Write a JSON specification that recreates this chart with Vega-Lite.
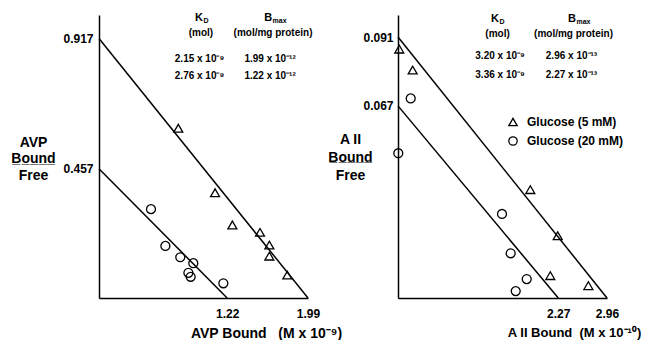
{
  "$schema": "https://vega.github.io/schema/vega-lite/v6.json",
  "background": "white",
  "padding": {"left": 10, "top": 12, "right": 0, "bottom": 0},
  "bounds": "flush",
  "spacing": 90,
  "datasets": {
    "pts_avp": [
      {"x": 0.755, "y": 0.600, "g": "Glucose (5 mM)"},
      {"x": 1.105, "y": 0.372, "g": "Glucose (5 mM)"},
      {"x": 1.270, "y": 0.258, "g": "Glucose (5 mM)"},
      {"x": 1.533, "y": 0.232, "g": "Glucose (5 mM)"},
      {"x": 1.622, "y": 0.187, "g": "Glucose (5 mM)"},
      {"x": 1.622, "y": 0.148, "g": "Glucose (5 mM)"},
      {"x": 1.793, "y": 0.081, "g": "Glucose (5 mM)"},
      {"x": 0.495, "y": 0.314, "g": "Glucose (20 mM)"},
      {"x": 0.632, "y": 0.184, "g": "Glucose (20 mM)"},
      {"x": 0.774, "y": 0.144, "g": "Glucose (20 mM)"},
      {"x": 0.898, "y": 0.123, "g": "Glucose (20 mM)"},
      {"x": 0.851, "y": 0.089, "g": "Glucose (20 mM)"},
      {"x": 0.873, "y": 0.075, "g": "Glucose (20 mM)"},
      {"x": 1.184, "y": 0.052, "g": "Glucose (20 mM)"}
    ],
    "lines_avp": [
      {"x": 0, "y": 0.917, "x2": 1.99, "y2": 0},
      {"x": 0, "y": 0.457, "x2": 1.22, "y2": 0}
    ],
    "ann_avp": [
      {"x": 0.971, "y": 0.936, "t": "(mol)"},
      {"x": 1.657, "y": 0.936, "t": "(mol/mg protein)"},
      {"x": 0.957, "y": 0.845, "t": "2.15 x 10⁻⁹"},
      {"x": 1.629, "y": 0.845, "t": "1.99 x 10⁻¹²"},
      {"x": 0.957, "y": 0.784, "t": "2.76 x 10⁻⁹"},
      {"x": 1.629, "y": 0.784, "t": "1.22 x 10⁻¹²"}
    ],
    "hdr_avp": [
      {"x": 0.99, "y": 0.989, "t": "K", "s": "D"},
      {"x": 1.648, "y": 0.989, "t": "B", "s": "max"}
    ],
    "pts_aii": [
      {"x": 0.018, "y": 0.0868, "g": "Glucose (5 mM)"},
      {"x": 0.208, "y": 0.0795, "g": "Glucose (5 mM)"},
      {"x": 1.874, "y": 0.0378, "g": "Glucose (5 mM)"},
      {"x": 2.262, "y": 0.0217, "g": "Glucose (5 mM)"},
      {"x": 2.157, "y": 0.0078, "g": "Glucose (5 mM)"},
      {"x": 2.696, "y": 0.0043, "g": "Glucose (5 mM)"},
      {"x": 0.180, "y": 0.0696, "g": "Glucose (20 mM)"},
      {"x": 0.004, "y": 0.0505, "g": "Glucose (20 mM)"},
      {"x": 1.473, "y": 0.0293, "g": "Glucose (20 mM)"},
      {"x": 1.596, "y": 0.0156, "g": "Glucose (20 mM)"},
      {"x": 1.823, "y": 0.0066, "g": "Glucose (20 mM)"},
      {"x": 1.667, "y": 0.0024, "g": "Glucose (20 mM)"}
    ],
    "lines_aii": [
      {"x": 0, "y": 0.091, "x2": 2.96, "y2": 0},
      {"x": 0, "y": 0.067, "x2": 2.27, "y2": 0}
    ],
    "ann_aii": [
      {"x": 1.41, "y": 0.0921, "t": "(mol)"},
      {"x": 2.486, "y": 0.0921, "t": "(mol/mg protein)"},
      {"x": 1.445, "y": 0.0844, "t": "3.20 x 10⁻⁹"},
      {"x": 2.457, "y": 0.0844, "t": "2.96 x 10⁻¹³"},
      {"x": 1.445, "y": 0.0778, "t": "3.36 x 10⁻⁹"},
      {"x": 2.457, "y": 0.0778, "t": "2.27 x 10⁻¹³"}
    ],
    "hdr_aii": [
      {"x": 1.431, "y": 0.0973, "t": "K", "s": "D"},
      {"x": 2.52, "y": 0.0973, "t": "B", "s": "max"}
    ]
  },
  "hconcat": [
    {
      "width": 209,
      "height": 283,
      "layer": [
        {
          "data": {"name": "lines_avp"},
          "mark": {"type": "rule", "color": "black", "strokeWidth": 1.5},
          "encoding": {
            "x": {"field": "x", "type": "quantitative", "scale": {"domain": [0, 1.99], "nice": false, "zero": true},
              "axis": {"title": "AVP Bound\u00a0\u00a0 (M x 10⁻⁹)", "values": [1.22, 1.99], "format": ".2f", "labelPadding": 10,
                "titleX": 167, "titleY": 35, "titleAlign": "center", "titleBaseline": "middle"}},
            "y": {"field": "y", "type": "quantitative", "scale": {"domain": [0, 1], "nice": false, "zero": true},
              "axis": {"title": ["AVP", "B\u0332o\u0332u\u0332n\u0332d\u0332", "Free"], "values": [0.457, 0.917], "format": ".3f", "labelPadding": 6,
                "titleAngle": 0, "titleX": -66, "titleY": 127, "titleAlign": "center", "titleBaseline": "middle", "titleLineHeight": 16.5}},
            "x2": {"field": "x2"},
            "y2": {"field": "y2"}
          }
        },
        {
          "data": {"name": "pts_avp"},
          "mark": {"type": "point", "filled": false, "color": "black", "strokeWidth": 1.3, "size": 80, "opacity": 1},
          "encoding": {
            "x": {"field": "x", "type": "quantitative"},
            "y": {"field": "y", "type": "quantitative"},
            "shape": {"field": "g", "type": "nominal", "scale": {"domain": ["Glucose (5 mM)", "Glucose (20 mM)"], "range": ["triangle-up", "circle"]}, "legend": null}
          }
        },
        {
          "data": {"name": "ann_avp"},
          "mark": {"type": "text", "fontSize": 10, "fontWeight": "bold", "align": "center", "baseline": "middle", "color": "black"},
          "encoding": {
            "x": {"field": "x", "type": "quantitative"},
            "y": {"field": "y", "type": "quantitative"},
            "text": {"field": "t"}
          }
        },
        {
          "data": {"name": "hdr_avp"},
          "mark": {"type": "text", "fontSize": 11, "fontWeight": "bold", "align": "right", "baseline": "middle", "color": "black"},
          "encoding": {
            "x": {"field": "x", "type": "quantitative"},
            "y": {"field": "y", "type": "quantitative"},
            "text": {"field": "t"}
          }
        },
        {
          "data": {"name": "hdr_avp"},
          "mark": {"type": "text", "fontSize": 7, "fontWeight": "bold", "align": "left", "baseline": "middle", "dx": 0.5, "dy": 3, "color": "black"},
          "encoding": {
            "x": {"field": "x", "type": "quantitative"},
            "y": {"field": "y", "type": "quantitative"},
            "text": {"field": "s"}
          }
        }
      ]
    },
    {
      "width": 209,
      "height": 283,
      "layer": [
        {
          "data": {"name": "lines_aii"},
          "mark": {"type": "rule", "color": "black", "strokeWidth": 1.5},
          "encoding": {
            "x": {"field": "x", "type": "quantitative", "scale": {"domain": [0, 2.96], "nice": false, "zero": true},
              "axis": {"title": "A II Bound\u00a0\u00a0(M x 10⁻¹⁰)", "values": [2.27, 2.96], "format": ".2f", "labelPadding": 10,
                "titleX": 176, "titleY": 34, "titleAlign": "center", "titleBaseline": "middle", "titleFontSize": 13}},
            "y": {"field": "y", "type": "quantitative", "scale": {"domain": [0, 0.0987], "nice": false, "zero": true},
              "axis": {"title": ["A II", "B\u0332o\u0332u\u0332n\u0332d\u0332", "Free"], "values": [0.067, 0.091], "format": ".3f", "labelPadding": 5,
                "titleAngle": 0, "titleX": -48, "titleY": 124, "titleAlign": "center", "titleBaseline": "middle", "titleLineHeight": 18}},
            "x2": {"field": "x2"},
            "y2": {"field": "y2"}
          }
        },
        {
          "data": {"name": "pts_aii"},
          "mark": {"type": "point", "filled": false, "color": "black", "strokeWidth": 1.3, "size": 80, "opacity": 1},
          "encoding": {
            "x": {"field": "x", "type": "quantitative"},
            "y": {"field": "y", "type": "quantitative"},
            "shape": {"field": "g", "type": "nominal", "scale": {"domain": ["Glucose (5 mM)", "Glucose (20 mM)"], "range": ["triangle-up", "circle"]},
              "legend": {"orient": "none", "legendX": 109, "legendY": 101, "title": null, "labelFontSize": 12, "labelFontWeight": "bold",
                "labelColor": "black", "symbolStrokeColor": "black", "symbolStrokeWidth": 1.3, "symbolSize": 70, "rowPadding": 5, "labelOffset": 8, "padding": 0}}
          }
        },
        {
          "data": {"name": "ann_aii"},
          "mark": {"type": "text", "fontSize": 10, "fontWeight": "bold", "align": "center", "baseline": "middle", "color": "black"},
          "encoding": {
            "x": {"field": "x", "type": "quantitative"},
            "y": {"field": "y", "type": "quantitative"},
            "text": {"field": "t"}
          }
        },
        {
          "data": {"name": "hdr_aii"},
          "mark": {"type": "text", "fontSize": 11, "fontWeight": "bold", "align": "right", "baseline": "middle", "color": "black"},
          "encoding": {
            "x": {"field": "x", "type": "quantitative"},
            "y": {"field": "y", "type": "quantitative"},
            "text": {"field": "t"}
          }
        },
        {
          "data": {"name": "hdr_aii"},
          "mark": {"type": "text", "fontSize": 7, "fontWeight": "bold", "align": "left", "baseline": "middle", "dx": 0.5, "dy": 3, "color": "black"},
          "encoding": {
            "x": {"field": "x", "type": "quantitative"},
            "y": {"field": "y", "type": "quantitative"},
            "text": {"field": "s"}
          }
        }
      ]
    }
  ],
  "resolve": {"scale": {"shape": "independent"}, "legend": {"shape": "independent"}},
  "config": {
    "view": {"stroke": null},
    "font": "Liberation Sans Narrow, Liberation Sans, Arial, sans-serif",
    "text": {"font": "Liberation Sans Narrow, Liberation Sans, Arial, sans-serif"},
    "legend": {"labelFont": "Liberation Sans Narrow, Liberation Sans, Arial, sans-serif"},
    "axis": {
      "domainColor": "black", "domainWidth": 1.5, "ticks": false, "grid": false,
      "labelColor": "black", "labelFontWeight": "bold", "labelFontSize": 12,
      "labelFont": "Liberation Sans Narrow, Liberation Sans, Arial, sans-serif",
      "titleColor": "black", "titleFontWeight": "bold", "titleFontSize": 14,
      "titleFont": "Liberation Sans Narrow, Liberation Sans, Arial, sans-serif",
      "labelFlush": false, "labelOverlap": false
    }
  }
}
